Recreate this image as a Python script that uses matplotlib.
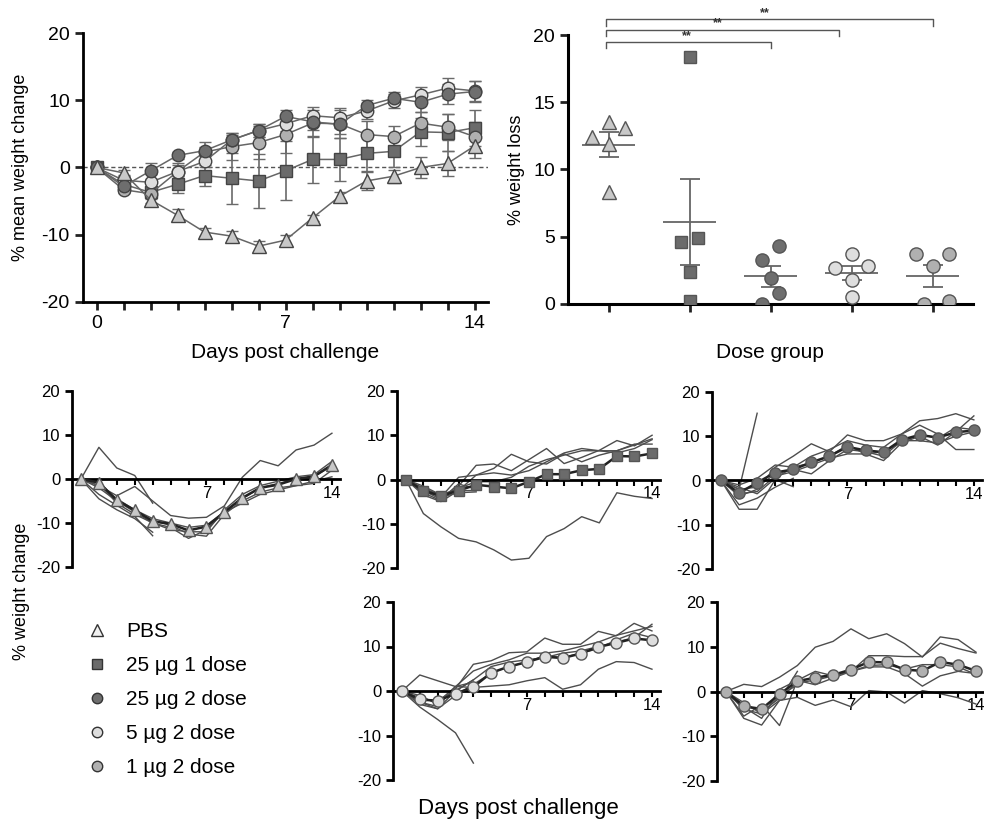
import numpy as np
import matplotlib.pyplot as plt
from matplotlib.lines import Line2D

plt.rcParams['font.family'] = ['Liberation Sans', 'DejaVu Sans']
plt.rcParams['axes.unicode_minus'] = False

days = np.arange(15)
groups = ['PBS', '25 µg 1 dose', '25 µg 2 dose', '5 µg 2 dose', '1 µg 2 dose']
markers = ['^', 's', 'o', 'o', 'o']
colors = ['#c8c8c8', '#6b6b6b', '#6e6e6e', '#dedede', '#b0b0b0']
msizes = [10, 8.5, 9, 9, 9]

# group mean % weight change and SEM per day
mean_pbs = [0, -0.8, -4.8, -7.1, -9.6, -10.2, -11.7, -10.8, -7.5, -4.3, -2.0, -1.3, 0.0, 0.6, 3.2]
sem_pbs = [0, 0.4, 0.5, 0.9, 0.6, 0.7, 0.7, 0.7, 0.5, 0.7, 1.4, 1.0, 1.5, 1.8, 1.8]
mean_25x1 = [0, -2.5, -3.7, -2.5, -1.2, -1.6, -2.0, -0.5, 1.2, 1.2, 2.1, 2.4, 5.3, 5.2, 5.9]
sem_25x1 = [0, 0.5, 0.7, 1.3, 1.5, 3.8, 4.0, 4.4, 3.5, 3.2, 2.6, 2.4, 2.1, 2.7, 2.7]
mean_25x2 = [0, -2.8, -0.5, 1.8, 2.5, 4.1, 5.5, 7.6, 6.8, 6.4, 9.2, 10.3, 9.7, 10.9, 11.3]
sem_25x2 = [0, 0.8, 1.2, 0.5, 0.6, 0.8, 1.0, 0.9, 1.2, 1.4, 0.9, 0.9, 1.5, 1.5, 1.5]
mean_5x2 = [0, -1.9, -2.2, -0.6, 0.9, 4.1, 5.5, 6.5, 7.7, 7.4, 8.4, 9.9, 10.8, 11.8, 11.4]
sem_5x2 = [0, 0.8, 1.3, 1.0, 0.8, 1.0, 1.0, 1.0, 1.3, 1.5, 1.2, 1.0, 1.2, 1.5, 1.5]
mean_1x2 = [0, -3.3, -3.9, -0.6, 2.3, 3.1, 3.7, 4.9, 6.6, 6.5, 4.9, 4.6, 6.6, 6.0, 4.6]
sem_1x2 = [0, 0.5, 0.8, 1.2, 1.5, 2.0, 2.5, 2.8, 2.0, 2.1, 2.0, 1.5, 1.7, 1.9, 2.2]

means = [mean_pbs, mean_25x1, mean_25x2, mean_5x2, mean_1x2]
sems = [sem_pbs, sem_25x1, sem_25x2, sem_5x2, sem_1x2]

# individual mice, short lists are mice taken out at day 2-4
mice_pbs = [
    [0, -1.5, -3.8, -1.7, -5.0, -8.3, -8.9, -8.7, -6.1, 0.4, 4.2, 3.0, 6.6, 7.7, 10.4],
    [0, -1.5, -4.5, -7.0, -9.5, -10.5, -12.5, -13.0, -8.0, -5.0, -3.0, -2.0, -1.5, -1.0, 2.0],
    [0, -2.0, -5.0, -7.5, -10.0, -11.0, -13.5, -11.5, -7.5, -4.5, -2.0, -1.0, 0.0, 0.5, 3.0],
    [0, -1.0, -5.5, -8.0, -10.0, -11.5, -12.0, -12.0, -7.0, -3.5, -1.5, -0.5, 0.5, 1.0, 4.0],
    [0, -0.5, -5.0, -7.0, -9.0, -10.0, -11.0, -10.5, -7.5, -5.5, -3.5, -2.5, -1.5, -0.5, 0.5],
    [0, 7.2, 2.5, 0.8, -5.5],
    [0, -3.5, -6.0, -8.5, -12.9],
    [0, -4.5, -7.0, -9.0, -12.1],
]
mice_25x1 = [
    [0, -7.7, -10.7, -13.3, -14.1, -15.9, -18.2, -17.8, -12.9, -11.1, -8.4, -9.8, -3.0, -3.8, -4.3],
    [0, -3.0, -4.8, -1.5, 3.2, 3.5, 2.0, 4.5, 7.0, 3.6, 5.0, 6.6, 8.8, 7.6, 10.0],
    [0, -2.5, -4.0, 0.5, 1.0, 2.5, 5.7, 4.0, 3.5, 5.8, 4.0, 5.5, 6.5, 7.8, 9.2],
    [0, -2.0, -3.5, -2.0, -0.5, -0.5, 0.5, 3.0, 4.5, 5.5, 6.5, 6.5, 6.5, 8.0, 8.0],
    [0, -3.5, -5.0, -2.5, 1.0, 1.5, 1.0, 2.0, 4.0, 6.0, 7.0, 6.5, 6.0, 7.0, 9.0],
    [0, -2.0, -4.0, -3.0, -2.8],
    [0, -1.5, -3.5, -2.5, -2.5],
    [0, -2.5, -4.5, -1.0, -2.2],
]
mice_25x2 = [
    [0, -1.5, -3.0, 0.5, 3.0, 5.5, 7.0, 9.0, 8.0, 7.5, 10.5, 12.5, 10.5, 7.0, 7.0],
    [0, -3.5, -2.0, 3.0, 5.5, 8.3, 6.5, 10.3, 9.0, 9.0, 10.5, 13.5, 14.0, 15.1, 13.7],
    [0, -3.0, -2.5, 1.0, 2.0, 3.5, 5.0, 6.0, 6.0, 4.5, 8.5, 10.0, 8.0, 11.0, 14.6],
    [0, -2.0, -1.5, 1.5, 2.5, 1.5, 4.5, 7.0, 6.5, 5.5, 9.0, 9.0, 8.5, 10.0, 11.0],
    [0, -1.0, 0.5, 3.5, 3.0, 4.0, 5.5, 8.0, 6.0, 6.5, 8.5, 10.5, 9.5, 12.0, 11.5],
    [0, -2.0, 15.2],
    [0, -6.5, -6.5, 0.2, -1.4],
    [0, -5.5, -4.0, -1.5, 0.5],
]
mice_5x2 = [
    [0, 3.6, 2.3, 1.0, 0.8, 1.1, 1.4, 2.3, 3.0, 0.4, 1.4, 4.9, 6.6, 6.4, 4.9],
    [0, -1.0, -3.0, 0.5, 6.0, 6.8, 8.6, 8.8, 11.9, 10.5, 10.5, 13.4, 12.4, 15.2, 13.5],
    [0, -2.5, -3.5, 1.0, 4.5, 6.0, 7.0, 8.5, 8.5, 9.0, 10.0, 11.0, 12.5, 13.5, 14.5],
    [0, -2.0, -2.0, 0.0, 2.5, 5.5, 6.5, 7.0, 7.5, 8.5, 9.0, 10.0, 11.0, 12.0, 15.0],
    [0, -3.0, -4.0, -1.0, 1.5, 4.0, 5.5, 6.5, 8.0, 7.5, 8.5, 9.5, 11.5, 13.0, 12.0],
    [0, -3.6, -6.4, -9.4, -16.2],
    [0, -1.5, -2.5, 1.0, 2.0],
    [0, -2.5, -4.0, 0.0, 2.5],
]
mice_1x2 = [
    [0, 1.6, 1.1, 3.2, 5.8, 9.9, 11.2, 14.0, 11.8, 12.9, 10.7, 7.7, 12.2, 11.6, 8.8],
    [0, -3.0, -4.5, -1.5, 2.0, 2.5, 3.5, 4.5, 8.0, 8.0, 7.8, 7.8, 10.8, 9.6, 8.6],
    [0, -4.0, -5.0, -2.0, -1.3, -3.1, -1.9, -3.4, 0.2, -0.1, -2.6, 0.2, -0.5, -1.4, -2.8],
    [0, -5.5, -3.0, -7.6, 2.5, 1.5, 3.0, 4.5, 5.5, 5.5, 4.0, 1.2, 3.5, 4.5, 4.0],
    [0, -3.5, -6.0, 0.5, 2.5, 4.5, 3.5, 4.5, 5.8, 6.0, 5.0, 6.0, 6.0, 5.5, 3.8],
    [0, -6.0, -7.5, -2.0, 4.5],
    [0, -2.5, -5.0, -1.0, 1.5],
]
mice = [mice_pbs, mice_25x1, mice_25x2, mice_5x2, mice_1x2]

# peak % weight loss per mouse
loss_pbs = [12.4, 13.5, 13.1, 11.9, 8.3]
loss_25x1 = [18.4, 4.6, 4.9, 2.4, 0.2]
loss_25x2 = [3.3, 4.3, 1.9, 0.8, 0.0]
loss_5x2 = [3.7, 2.7, 2.8, 1.8, 0.5]
loss_1x2 = [3.7, 3.7, 2.8, 0.2, 0.0]
losses = [loss_pbs, loss_25x1, loss_25x2, loss_5x2, loss_1x2]
# sideways spread of the dots inside a group
spread = [[-0.2, 0, 0.2, 0, 0], [0, -0.11, 0.1, 0, 0], [-0.1, 0.11, 0, 0.11, -0.1],
          [0, -0.2, 0.2, 0, 0], [-0.2, 0.2, 0, 0.2, -0.1]]


def box(l, r, t, b):
    # pixel box -> figure fraction
    return [l / 984, 1 - b / 822, (r - l) / 984, (b - t) / 822]


fig = plt.figure(figsize=(9.84, 8.22), dpi=100)

# --- top left: mean weight change
ax = fig.add_axes(box(83, 488, 33, 302))
ax.axhline(0, ls=(0, (3, 2)), color='#555555', lw=1, zorder=0)
for i in [1, 4, 3, 2, 0]:
    ax.errorbar(days, means[i], yerr=sems[i], marker=markers[i], ms=msizes[i],
                mfc=colors[i], mec='#444444', mew=1, color='#666666', lw=1.1,
                ecolor='#6a6a6a', elinewidth=1.2, capsize=4, capthick=1.2)
ax.set_xlim(-0.5, 14.5)
ax.set_ylim(-20, 20)
ax.set_xticks(days)
ax.set_xticklabels([str(d) if d in (0, 7, 14) else '' for d in days])
ax.set_yticks([-20, -10, 0, 10, 20])
for s in ['top', 'right']:
    ax.spines[s].set_visible(False)
for s in ['left', 'bottom']:
    ax.spines[s].set_linewidth(2)
ax.tick_params(length=6, width=2, labelsize=14, color='#222222')
ax.set_ylabel('% mean weight change', fontsize=13)
ax.yaxis.set_label_coords(-0.133, 0.5)

# --- top right: weight loss per dose group
ax2 = fig.add_axes(box(568, 973, 35, 304))
for i in range(5):
    ax2.plot(i + np.array(spread[i]), losses[i], ls='none', marker=markers[i],
             ms=msizes[i] + 0.5, mfc=colors[i], mec='#555555', mew=1, zorder=3)
    m = np.mean(losses[i])
    se = np.std(losses[i], ddof=1) / np.sqrt(len(losses[i]))
    ax2.hlines(m, i - 0.33, i + 0.33, color='#666666', lw=1.3, zorder=2)
    ax2.errorbar(i, m, yerr=se, fmt='none', ecolor='#666666', elinewidth=1.3,
                 capsize=7, capthick=1.3, zorder=2)
ax2.set_xlim(-0.5, 4.5)
ax2.set_ylim(0, 20)
ax2.set_xticks(range(5))
ax2.set_xticklabels([''] * 5)
ax2.set_yticks([0, 5, 10, 15, 20])
for s in ['top', 'right']:
    ax2.spines[s].set_visible(False)
for s in ['left', 'bottom']:
    ax2.spines[s].set_linewidth(2.2)
ax2.tick_params(length=6, width=2, labelsize=14, color='#222222')
ax2.set_ylabel('% weight loss', fontsize=13)
ax2.yaxis.set_label_coords(-0.106, 0.5)

# significance brackets
for x1, y, sx, sy in [(2.0, 19.5, 0.97, 19.5), (2.85, 20.4, 1.35, 20.4), (4.0, 21.2, 1.93, 21.2)]:
    ax2.plot([-0.03, -0.03, x1, x1], [y - 0.5, y, y, y - 0.5], color='#555555',
             lw=1, clip_on=False)
    ax2.text(sx, sy, '**', fontsize=9, fontweight='bold', ha='center', va='bottom',
             color='#333333')

# --- bottom: individual mice per group
boxes = [box(72, 340, 391, 567), box(397, 660, 391, 568), box(712, 982, 392, 569),
         box(393, 660, 602, 780), box(717, 984, 602, 781)]
for i in range(5):
    a = fig.add_axes(boxes[i])
    for m in mice[i]:
        a.plot(days[:len(m)], m, color='#4d4d4d', lw=1.0, zorder=2)
    a.plot(days, means[i], color='#222222', lw=1.8, marker=markers[i],
           ms=msizes[i] - 1, mfc=colors[i], mec='#555555', mew=1, zorder=3)
    a.set_xlim(-0.5, 14.45)
    a.set_ylim(-20, 20)
    a.spines['bottom'].set_position(('data', 0))
    for s in ['top', 'right']:
        a.spines[s].set_visible(False)
    for s in ['left', 'bottom']:
        a.spines[s].set_linewidth(2)
    a.set_xticks(days[1:])
    a.set_xticklabels([str(d) if d in (7, 14) else '' for d in days[1:]])
    a.set_yticks([-20, -10, 0, 10, 20])
    a.tick_params(axis='x', length=4, width=1.5, labelsize=12, pad=1)
    a.tick_params(axis='y', length=5, width=2, labelsize=12)

# legend
handles = [Line2D([], [], ls='none', marker=markers[i], ms=msizes[i] - 1.5,
                  mfc=colors[i] if i else '#f0f0f0', mec='#333333', mew=1)
           for i in range(5)]
fig.legend(handles, groups, loc='upper left', bbox_to_anchor=(86.6 / 984, 1 - 622 / 822),
           frameon=False, fontsize=15, handlelength=1, handletextpad=0.9,
           labelspacing=0.72, borderpad=0, borderaxespad=0)

# shared labels
fig.text(285 / 984, 1 - 352 / 822, 'Days post challenge', ha='center', va='center', fontsize=15)
fig.text(770 / 984, 1 - 352 / 822, 'Dose group', ha='center', va='center', fontsize=15)
fig.text(518 / 984, 1 - 808 / 822, 'Days post challenge', ha='center', va='center', fontsize=16)
fig.text(22 / 984, 1 - 591 / 822, '% weight change', rotation=90, ha='center', va='center', fontsize=13)

fig.savefig('out.png', dpi=100)
